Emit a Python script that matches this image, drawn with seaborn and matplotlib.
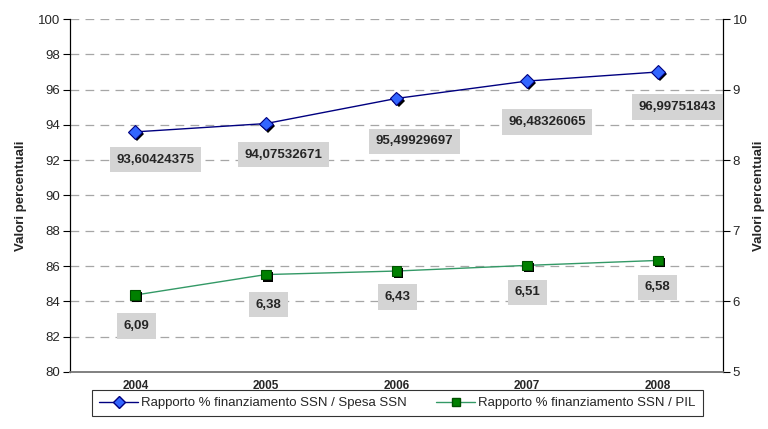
import pandas as pd
import matplotlib
matplotlib.use('Agg')
import matplotlib.pyplot as plt
import matplotlib.patheffects as pe
import seaborn as sns

# --- dati ---
anni = ['2004', '2005', '2006', '2007', '2008']
spesa_ssn = [93.60424375, 94.07532671, 95.49929697, 96.48326065, 96.99751843]
pil = [6.09, 6.38, 6.43, 6.51, 6.58]
etichette_spesa = ['93,60424375', '94,07532671', '95,49929697', '96,48326065', '96,99751843']
etichette_pil = ['6,09', '6,38', '6,43', '6,51', '6,58']
nome_spesa = 'Rapporto % finanziamento SSN / Spesa SSN'
nome_pil = 'Rapporto % finanziamento SSN / PIL'

sns.set_style('white')
plt.rcParams['font.family'] = ['Liberation Sans', 'DejaVu Sans']

df = pd.DataFrame({'anno': anni, 'x': range(len(anni)), 'spesa': spesa_ssn, 'pil': pil})

fig = plt.figure(figsize=(7.68, 4.29), dpi=100)
ax = fig.add_axes([0.0911, 0.1329, 0.8503, 0.8228])
ax2 = ax.twinx()

ombra = [pe.SimplePatchShadow(offset=(1.5, -1.5), shadow_rgbFace='black', alpha=1.0), pe.Normal()]

# linea blu (asse sinistro)
sns.lineplot(data=df, x='x', y='spesa', ax=ax, color='#000080', linewidth=1, legend=False)
ax.plot(df['x'], df['spesa'], linestyle='none', marker='D', markersize=7,
        markerfacecolor='#3366ff', markeredgecolor='#000080', markeredgewidth=0.8,
        path_effects=ombra, zorder=4)

# linea verde (asse destro)
sns.lineplot(data=df, x='x', y='pil', ax=ax2, color='#339966', linewidth=1, legend=False)
ax2.plot(df['x'], df['pil'], linestyle='none', marker='s', markersize=7,
         markerfacecolor='#008000', markeredgecolor='#005000', markeredgewidth=0.8,
         path_effects=ombra, zorder=4)

ax.set_xlim(-0.5, 4.5)
ax.set_ylim(80, 100)
ax2.set_ylim(5, 10)
ax.set_yticks(range(80, 101, 2))
ax2.set_yticks(range(5, 11, 1))
ax.set_xticks(range(len(anni)))
ax.set_xticklabels(anni, fontsize=8.5, fontweight='bold')
ax.set_xticks([i + 0.5 for i in range(-1, len(anni))], minor=True)
ax.tick_params(axis='x', which='major', length=0, pad=6)
ax.tick_params(axis='x', which='minor', length=4, direction='out', color='#808080')
ax.tick_params(axis='y', length=5, direction='out', labelsize=9.5, color='#000000', pad=2)
ax2.tick_params(axis='y', length=5, direction='out', labelsize=9.5, color='#000000', pad=2)
ax.set_xlabel('')
ax.set_ylabel('Valori percentuali', fontsize=9.5, fontweight='bold', labelpad=8)
ax2.set_ylabel('Valori percentuali', fontsize=9.5, fontweight='bold', rotation=90, labelpad=4)

ax.yaxis.grid(True, linestyle=(0, (7, 5)), color='#a6a6a6', linewidth=0.9)
ax.set_axisbelow(True)
for a in (ax, ax2):
    a.spines['top'].set_visible(False)
    a.spines['left'].set_color('#000000')
    a.spines['right'].set_color('#000000')
    a.spines['bottom'].set_color('#808080')
    a.spines['bottom'].set_linewidth(1.2)

box = dict(boxstyle='square,pad=0.5', facecolor='#d4d4d4', edgecolor='none')

# etichette (offset in pixel)
off_spesa = [(20, -28), (18, -31), (18, -43), (20, -41), (20, -35)]
for i, (v, t) in enumerate(zip(spesa_ssn, etichette_spesa)):
    ax.annotate(t, (i, v), xytext=off_spesa[i], textcoords='offset pixels',
                ha='center', va='center', fontsize=9.5, fontweight='bold', bbox=box, zorder=5)

off_pil = [(1, -31), (3, -30), (1, -26), (0, -27), (0, -27)]
for i, (v, t) in enumerate(zip(pil, etichette_pil)):
    ax2.annotate(t, (i, v), xytext=off_pil[i], textcoords='offset pixels',
                 ha='center', va='center', fontsize=9.5, fontweight='bold', bbox=box, zorder=5)

# legenda
h1 = plt.Line2D([], [], color='#000080', linewidth=1, marker='D', markersize=6,
                markerfacecolor='#3366ff', markeredgecolor='#000080')
h2 = plt.Line2D([], [], color='#339966', linewidth=1, marker='s', markersize=6,
                markerfacecolor='#008000', markeredgecolor='#005000')
leg = fig.legend([h1, h2], [nome_spesa, nome_pil], loc='center', ncol=2,
                 bbox_to_anchor=(0.517, 0.0606), frameon=True, fancybox=False,
                 fontsize=9.5, handlelength=3.0, columnspacing=2.2, borderpad=0.55,
                 handletextpad=0.2)
leg.get_frame().set_edgecolor('#000000')
leg.get_frame().set_linewidth(0.8)

fig.savefig('out.png', dpi=100)
